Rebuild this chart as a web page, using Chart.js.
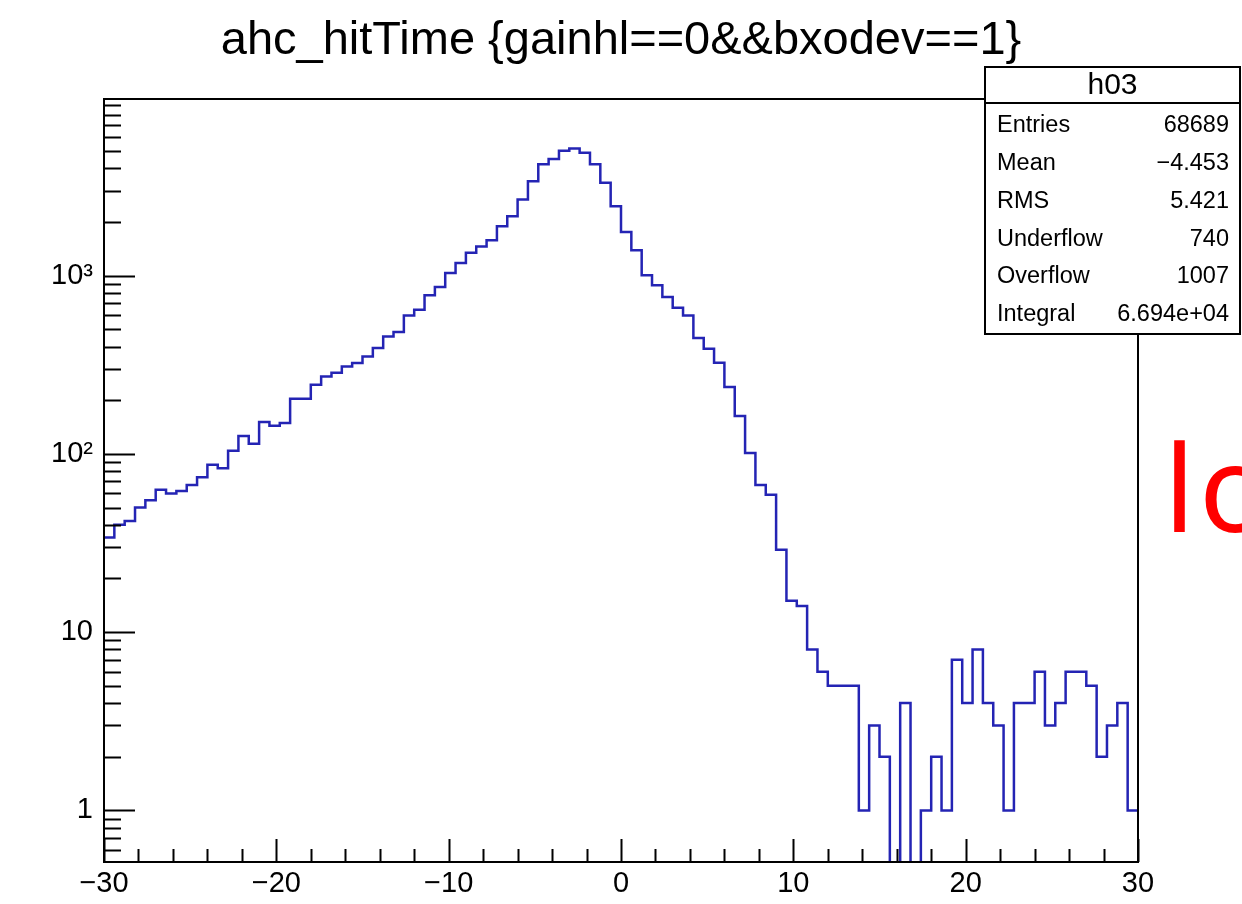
<!DOCTYPE html>
<html>
<head>
<meta charset="utf-8">
<script src="https://cdn.jsdelivr.net/npm/chart.js@4.4.0/dist/chart.umd.min.js"></script>
<style>
    html, body { margin: 0; padding: 0; background: #fff; }
    #wrap { width: 1242px; height: 904px; }
</style>
</head>
<body>
<div id="wrap"><canvas id="histChart" width="1242" height="904"></canvas></div>
<script>
// histogram h03: 100 bins from -30 to 30
const histTitle = 'ahc_hitTime {gainhl==0&&bxodev==1}';
const binLow = -30;
const binWidth = 0.6;
const counts = [
    34, 40, 42, 50, 55, 63, 60, 62, 67, 74,
    87, 83, 104, 126, 114, 151, 144, 149, 204, 204,
    244, 272, 285, 309, 323, 352, 392, 456, 482, 598,
    644, 775, 863, 1033, 1178, 1343, 1455, 1579, 1891, 2153,
    2673, 3386, 4207, 4501, 5012, 5167, 4885, 4217, 3313, 2449,
    1758, 1387, 1004, 883, 759, 661, 598, 446, 389, 324,
    237, 163, 101, 67, 59, 29, 15, 14, 8, 6,
    5, 5, 5, 1, 3, 2, 0, 4, 0, 1,
    2, 1, 7, 4, 8, 4, 3, 1, 4, 4,
    6, 3, 4, 6, 6, 5, 2, 3, 4, 1
];
const xTickValues = [-30, -20, -10, 0, 10, 20, 30];
const yTickValues = [1, 10, 100, 1000];
const yTickLabels = ['1', '10', '10²', '10³'];
const statsName = 'h03';
const statLabels = ['Entries', 'Mean', 'RMS', 'Underflow', 'Overflow', 'Integral'];
const statValues = ['68689', '\u22124.453', '5.421', '740', '1007', '6.694e+04'];
const sideNote = 'lo';

const FONT = '"Liberation Sans", Arial, Helvetica, sans-serif';
Chart.defaults.font.family = FONT;
Chart.defaults.color = '#000';

// empty bins can't sit on a log axis: push them below the frame so the line drops out
const Y_MIN = 0.514;
const EMPTY = 1e-3;

// left edge of every bin, plus closing point at the upper edge
const points = counts.map((c, i) => ({ x: binLow + i * binWidth, y: c > 0 ? c : EMPTY }));
points.push({ x: binLow + counts.length * binWidth, y: counts[counts.length - 1] || EMPTY });

const fmtMinus = v => (v < 0 ? '\u2212' + Math.abs(v) : String(v));

// ROOT-like frame with inward tick marks
const rootFrame = {
    id: 'rootFrame',
    afterDatasetsDraw(chart) {
        const { ctx, chartArea: a, scales: { x, y } } = chart;
        ctx.save();
        ctx.strokeStyle = '#000';
        ctx.lineWidth = 2;
        ctx.beginPath();
        for (let v = x.min; v <= x.max + 1e-9; v += 2) {
            const px = Math.round(x.getPixelForValue(v)) + 0.5;
            const len = v % 10 === 0 ? 23 : 13;
            ctx.moveTo(px, a.bottom);
            ctx.lineTo(px, a.bottom - len);
        }
        for (let d = 0.1; d <= 10000; d *= 10) {
            for (let m = 1; m <= 9; m++) {
                const v = m * d;
                if (v < y.min || v > y.max) continue;
                const py = Math.round(y.getPixelForValue(v)) + 0.5;
                ctx.moveTo(a.left, py);
                ctx.lineTo(a.left + (m === 1 ? 31 : 17), py);
            }
        }
        ctx.stroke();
        ctx.strokeRect(a.left, a.top, a.right - a.left, a.bottom - a.top);
        ctx.restore();
    },
    afterDraw(chart) {
        const { ctx } = chart;
        ctx.save();
        // stats box
        const bx = 985, by = 67, bw = 255, bh = 267, head = 36;
        ctx.fillStyle = '#fff';
        ctx.fillRect(bx, by, bw, bh);
        ctx.strokeStyle = '#000';
        ctx.lineWidth = 2;
        ctx.strokeRect(bx, by, bw, bh);
        ctx.beginPath();
        ctx.moveTo(bx, by + head);
        ctx.lineTo(bx + bw, by + head);
        ctx.stroke();
        ctx.fillStyle = '#000';
        ctx.textBaseline = 'middle';
        ctx.textAlign = 'center';
        ctx.font = '30px ' + FONT;
        ctx.fillText(statsName, bx + bw / 2, by + head / 2 + 1);
        ctx.font = '23.5px ' + FONT;
        statLabels.forEach((lab, i) => {
            const ry = 126 + i * 37.7;
            ctx.textAlign = 'left';
            ctx.fillText(lab, 997, ry);
            ctx.textAlign = 'right';
            ctx.fillText(statValues[i], 1229, ry);
        });
        // red text cut by the right edge
        ctx.fillStyle = '#ff0000';
        ctx.textAlign = 'left';
        ctx.textBaseline = 'alphabetic';
        ctx.font = '120px "Noto Sans", "Open Sans", sans-serif';
        if ('letterSpacing' in ctx) ctx.letterSpacing = '4px';
        ctx.fillText(sideNote, 1164, 532);
        ctx.restore();
    }
};

const ctx = document.getElementById('histChart').getContext('2d');
new Chart(ctx, {
    type: 'line',
    data: {
        datasets: [{
            label: statsName,
            data: points,
            stepped: true,
            borderColor: '#2424b4',
            borderWidth: 2.5,
            pointRadius: 0,
            fill: false,
            tension: 0,
            spanGaps: true
        }]
    },
    options: {
        responsive: false,
        animation: false,
        layout: { padding: 0 },
        plugins: {
            legend: { display: false },
            tooltip: { enabled: false },
            title: {
                display: true,
                text: histTitle,
                color: '#000',
                font: { size: 47, weight: 'normal' },
                padding: { top: 13, bottom: 29.6 }
            }
        },
        scales: {
            x: {
                type: 'linear',
                min: -30,
                max: 30,
                grid: { display: false, drawTicks: false },
                border: { display: false },
                afterBuildTicks: s => { s.ticks = xTickValues.map(v => ({ value: v })); },
                afterFit: s => { s.height = 42; },
                ticks: {
                    font: { size: 29 },
                    color: '#000',
                    padding: 5,
                    maxRotation: 0,
                    callback: v => fmtMinus(v)
                }
            },
            y: {
                type: 'logarithmic',
                position: 'left',
                min: Y_MIN,
                max: 9780,
                grid: { display: false, drawTicks: false },
                border: { display: false },
                afterBuildTicks: s => { s.ticks = yTickValues.map(v => ({ value: v })); },
                afterFit: s => { s.width = 104; },
                ticks: {
                    font: { size: 29 },
                    color: '#000',
                    padding: 11,
                    callback: (v, i) => yTickLabels[i]
                }
            },
            yPad: {
                position: 'right',
                grid: { display: false, drawTicks: false },
                border: { display: false },
                ticks: { display: false },
                afterFit: s => { s.width = 104; }
            }
        }
    },
    plugins: [rootFrame]
});
</script>
</body>
</html>
